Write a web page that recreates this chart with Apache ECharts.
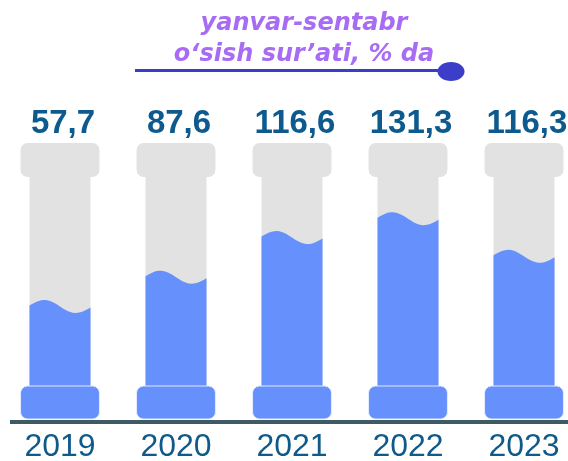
<!DOCTYPE html>
<html>
<head>
<meta charset="utf-8">
<script src="https://cdn.jsdelivr.net/npm/echarts@6/dist/echarts.min.js"></script>
<style>
  html, body { margin: 0; padding: 0; background: #fff; }
  #main { width: 568px; height: 461px; }
</style>
</head>
<body>
<div id="main"></div>
<script>
// data
var years = ['2019', '2020', '2021', '2022', '2023'];
var growth = [57.7, 87.6, 116.6, 131.3, 116.3];
// how full each pillar is drawn, % of the shaft
var fillLevel = [39, 53, 72, 81, 63];

var gray = '#e2e2e2';
var blue = '#6690fc';
var textBlue = '#0d5a8f';

var dom = document.getElementById('main');
var myChart = echarts.init(dom);

function renderPillar(params, api) {
    var i = api.value(0);
    var top = api.coord([i, 100]);
    var bot = api.coord([i, 0]);
    var lvl = api.coord([i, api.value(1)]);
    var band = api.size([1, 0])[0];
    var cx = top[0];
    var capW = band * 0.68;
    var shaftW = band * 0.526;
    var capH = 34, baseH = 33;
    var x0 = cx - shaftW / 2;

    // wavy top of the fill
    var pts = [];
    var n = 24;
    for (var k = 0; k <= n; k++) {
        var t = k / n;
        pts.push([x0 + shaftW * t, lvl[1] + 1 - 6 * Math.sin(2 * Math.PI * t) + 2 * t]);
    }
    pts.push([x0 + shaftW, bot[1] + 2]);
    pts.push([x0, bot[1] + 2]);

    return {
        type: 'group',
        children: [
            { type: 'rect', shape: { x: x0, y: top[1] - 4, width: shaftW, height: bot[1] - top[1] + 6 }, style: { fill: gray } },
            { type: 'polygon', shape: { points: pts }, style: { fill: blue } },
            { type: 'rect', shape: { x: cx - capW / 2, y: top[1] - capH, width: capW, height: capH, r: 7 }, style: { fill: gray } },
            { type: 'rect', shape: { x: cx - capW / 2, y: bot[1], width: capW, height: baseH, r: 7 }, style: { fill: blue, stroke: '#e4eaff', lineWidth: 1 } },
            {
                type: 'text',
                style: {
                    text: String(growth[i]).replace('.', ','),
                    x: cx + 3, y: top[1] - capH - 19,
                    textAlign: 'center', textVerticalAlign: 'middle',
                    font: 'bold 33px "Liberation Sans", Arial, sans-serif',
                    fill: textBlue
                }
            }
        ]
    };
}

option = {
    animation: false,
    grid: { left: 2, width: 580, top: 177, bottom: 75, outerBoundsMode: 'none', containLabel: false },
    xAxis: {
        type: 'category',
        data: years,
        axisLine: { show: false },
        axisTick: { show: false },
        axisLabel: {
            margin: 45,
            fontSize: 32,
            fontFamily: '"Liberation Sans", Arial, sans-serif',
            color: '#0f5a8b'
        }
    },
    yAxis: { type: 'value', min: 0, max: 100, show: false },
    graphic: [
        { type: 'line', shape: { x1: 10, y1: 422, x2: 568, y2: 422 }, style: { stroke: '#3e5a64', lineWidth: 4 } },
        { type: 'line', shape: { x1: 135, y1: 70.5, x2: 442, y2: 70.5 }, style: { stroke: '#3a3ec6', lineWidth: 3 } },
        { type: 'ellipse', shape: { cx: 451, cy: 71.5, rx: 13.5, ry: 9.5 }, style: { fill: '#3c3dc8' } },
        {
            type: 'text',
            style: {
                text: 'yanvar-sentabr', x: 304, y: 24,
                textAlign: 'center', textVerticalAlign: 'middle',
                font: 'italic bold 24px "DejaVu Sans", sans-serif', fill: '#a86cf4'
            }
        },
        {
            type: 'text',
            style: {
                text: 'o‘sish sur’ati, % da', x: 304, y: 55,
                textAlign: 'center', textVerticalAlign: 'middle',
                font: 'italic bold 24px "DejaVu Sans", sans-serif', fill: '#a86cf4'
            }
        }
    ],
    series: [{
        type: 'custom',
        renderItem: renderPillar,
        data: fillLevel.map(function (v, i) { return [i, v]; })
    }]
};
myChart.setOption(option);
</script>
</body>
</html>
